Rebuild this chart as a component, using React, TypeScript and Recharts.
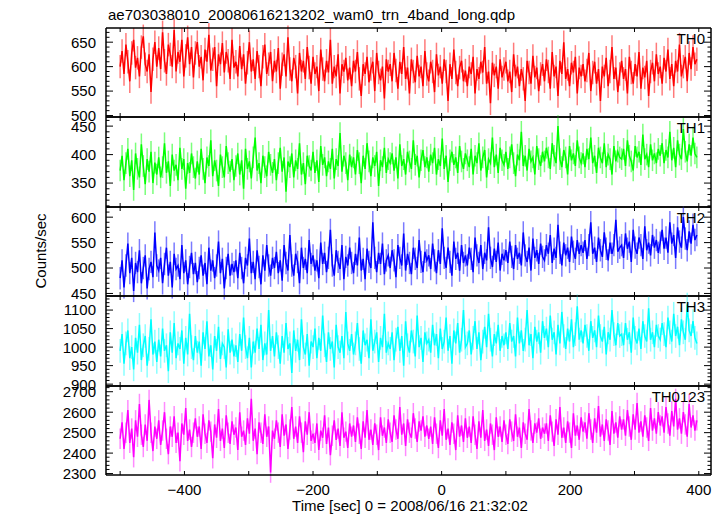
import { LineChart, Line, XAxis, YAxis, ErrorBar } from "recharts";

// time bins (sec): start and width
const T0 = -500;
const BIN = 3;

const TH0 = [
  600, 632, 585, 645, 610, 570, 628, 655, 598, 618, 580, 640, 662, 605, 590, 625, 548, 615, 650, 600,
  638, 595, 670, 612, 585, 645, 625, 600, 675, 590, 630, 610, 655, 580, 622, 660, 605, 640, 578, 628,
  650, 600, 620, 572, 635, 610, 665, 592, 615, 640, 560, 625, 605, 648, 588, 630, 612, 575, 655, 598,
  610, 580, 642, 595, 625, 565, 608, 650, 590, 615, 575, 632, 600, 560, 620, 645, 585, 605, 630, 570,
  612, 590, 638, 555, 605, 625, 580, 660, 595, 570, 618, 600, 545, 628, 590, 612, 575, 640, 598, 565,
  620, 585, 600, 550, 635, 595, 570, 612, 588, 655, 565, 600, 580, 625, 545, 605, 590, 618, 572, 598,
  560, 612, 590, 630, 575, 540, 605, 585, 620, 568, 595, 610, 550, 628, 588, 572, 600, 535, 615, 590,
  605, 570, 628, 592, 555, 610, 585, 640, 575, 598, 545, 615, 590, 568, 622, 580, 600, 560, 632, 585,
  570, 610, 590, 548, 625, 582, 600, 565, 615, 590, 530, 605, 575, 635, 588, 560, 598, 612, 570, 592,
  560, 600, 585, 620, 545, 595, 575, 610, 588, 640, 565, 590, 525, 608, 582, 600, 555, 615, 578, 595,
  610, 570, 590, 548, 625, 580, 600, 560, 595, 575, 530, 612, 588, 565, 622, 578, 598, 550, 585, 605,
  570, 615, 590, 555, 630, 580, 600, 540, 612, 585, 650, 575, 595, 560, 608, 588, 620, 545, 598, 580,
  605, 570, 592, 628, 550, 588, 610, 565, 595, 530, 600, 580, 618, 560, 590, 640, 575, 598, 548, 585,
  612, 575, 595, 545, 620, 588, 565, 605, 580, 630, 555, 598, 578, 612, 540, 590, 608, 570, 625, 585,
  600, 565, 618, 590, 635, 575, 605, 560, 612, 590, 645, 580, 600, 620, 570, 628, 595, 640, 605, 615,
];

const TH1 = [
  372, 398, 355, 385, 410, 362, 390, 338, 402, 375, 360, 418, 380, 348, 392, 370, 405, 350, 386, 365,
  395, 360, 378, 420, 368, 388, 345, 400, 372, 382, 355, 412, 375, 392, 340, 385, 368, 402, 378, 358,
  388, 365, 410, 375, 350, 395, 380, 425, 362, 390, 372, 345, 400, 378, 360, 415, 385, 370, 392, 355,
  380, 402, 365, 390, 340, 410, 375, 388, 358, 395, 430, 372, 385, 350, 398, 378, 362, 405, 382, 368,
  392, 355, 385, 412, 370, 395, 335, 388, 378, 402, 360, 390, 375, 420, 365, 385, 348, 398, 380, 372,
  405, 368, 390, 352, 415, 382, 395, 362, 388, 375, 410, 358, 392, 380, 438, 370, 398, 385, 355, 400,
  378, 395, 365, 408, 385, 350, 398, 375, 420, 388, 362, 395, 380, 405, 345, 390, 378, 412, 368, 392,
  385, 402, 372, 395, 358, 418, 380, 392, 365, 405, 388, 375, 425, 382, 398, 360, 390, 408, 378, 395,
  370, 400, 385, 412, 365, 392, 380, 428, 375, 398, 352, 390, 405, 382, 395, 368, 415, 388, 375, 402,
  390, 378, 410, 365, 398, 385, 420, 372, 395, 408, 360, 392, 385, 430, 378, 400, 368, 412, 390, 382,
  405, 375, 395, 418, 385, 362, 400, 390, 440, 380, 398, 372, 410, 388, 395, 365, 415, 392, 380, 405,
  388, 412, 395, 375, 420, 398, 385, 450, 392, 378, 408, 395, 365, 415, 390, 402, 380, 425, 395, 385,
  402, 378, 410, 392, 430, 385, 398, 368, 412, 395, 385, 420, 378, 400, 392, 365, 415, 388, 405, 395,
  392, 410, 380, 425, 398, 388, 372, 415, 395, 405, 382, 435, 392, 400, 378, 418, 390, 402, 385, 410,
  398, 420, 385, 408, 395, 440, 390, 412, 378, 425, 400, 392, 445, 405, 388, 418, 398, 430, 402, 395,
];

const TH2 = [
  480, 515, 462, 505, 548, 490, 520, 455, 510, 492, 535, 470, 500, 525, 460, 498, 512, 482, 570, 505,
  495, 520, 470, 508, 540, 485, 512, 462, 528, 498, 505, 478, 545, 490, 515, 468, 502, 530, 488, 510,
  472, 500, 525, 485, 510, 468, 540, 495, 515, 480, 505, 552, 490, 518, 460, 500, 528, 485, 508, 492,
  515, 480, 530, 500, 470, 520, 505, 558, 490, 512, 478, 535, 502, 468, 525, 495, 545, 505, 485, 520,
  500, 532, 490, 515, 475, 545, 510, 495, 565, 505, 485, 528, 512, 470, 540, 500, 518, 490, 555, 508,
  525, 495, 515, 480, 550, 508, 530, 492, 520, 575, 505, 485, 535, 512, 498, 545, 478, 522, 505, 540,
  510, 490, 528, 505, 560, 495, 518, 478, 538, 512, 500, 590, 520, 492, 530, 508, 548, 488, 515, 525,
  500, 535, 515, 482, 545, 520, 505, 568, 495, 528, 510, 488, 540, 518, 500, 555, 512, 492, 532, 515,
  525, 498, 548, 515, 490, 535, 508, 578, 520, 500, 540, 512, 485, 552, 518, 530, 495, 545, 510, 525,
  505, 540, 518, 492, 560, 525, 510, 545, 498, 530, 515, 580, 520, 502, 538, 512, 550, 495, 528, 515,
  535, 510, 552, 522, 498, 545, 518, 530, 505, 570, 525, 512, 540, 495, 558, 520, 535, 508, 548, 522,
  515, 545, 528, 565, 510, 538, 520, 585, 530, 505, 550, 525, 540, 512, 562, 532, 518, 555, 528, 545,
  530, 555, 518, 545, 590, 528, 540, 512, 560, 535, 522, 570, 538, 515, 550, 528, 545, 595, 532, 540,
  545, 520, 568, 538, 552, 512, 575, 540, 528, 560, 545, 518, 582, 535, 550, 525, 565, 540, 555, 530,
  550, 575, 538, 560, 530, 590, 548, 565, 520, 580, 552, 540, 600, 558, 535, 572, 548, 585, 555, 565,
];

const TH3 = [
  990, 1035, 955, 1010, 1045, 970, 1000, 940, 1025, 985, 1060, 965, 1005, 1030, 950, 995, 1075, 980, 1015, 960,
  1020, 975, 1050, 990, 1005, 935, 1040, 985, 1065, 970, 1010, 995, 1045, 955, 1025, 980, 1090, 1000, 965, 1030,
  985, 1015, 950, 1040, 995, 1070, 975, 1005, 940, 1030, 990, 1055, 968, 1010, 1000, 945, 1048, 985, 1020, 975,
  1005, 960, 1035, 990, 1080, 1000, 970, 1025, 945, 1015, 985, 1050, 995, 1060, 965, 1010, 980, 1100, 990, 1030,
  975, 1040, 1000, 955, 1030, 985, 1065, 995, 1010, 930, 1045, 990, 1020, 965, 1075, 1000, 980, 1035, 950, 1015,
  1000, 1050, 970, 1025, 990, 1085, 1005, 960, 1040, 995, 1015, 945, 1060, 1000, 985, 1030, 970, 1095, 1010, 990,
  1035, 980, 1010, 1065, 995, 955, 1045, 1005, 1020, 970, 1075, 990, 1015, 1040, 960, 1025, 1000, 1090, 985, 1010,
  995, 1040, 965, 1020, 1055, 990, 1030, 950, 1070, 1005, 985, 1045, 1015, 975, 1085, 1000, 1025, 960, 1040, 1010,
  1020, 985, 1060, 1005, 1035, 970, 1050, 995, 1015, 1080, 990, 1030, 955, 1045, 1010, 1065, 985, 1020, 1100, 1000,
  1010, 1045, 980, 1025, 1070, 995, 1040, 965, 1015, 1055, 1000, 1090, 1020, 975, 1035, 1010, 1060, 990, 1030, 1005,
  1040, 995, 1065, 1015, 1030, 975, 1080, 1010, 1045, 990, 1020, 1100, 1005, 1035, 970, 1055, 1015, 1040, 985, 1070,
  1025, 1050, 1000, 1085, 1020, 1040, 980, 1060, 1010, 1095, 1030, 995, 1050, 1015, 1075, 1000, 1035, 1110, 1020, 1045,
  1010, 1060, 1030, 990, 1070, 1025, 1045, 1000, 1085, 1030, 1015, 1055, 980, 1040, 1020, 1100, 1035, 1005, 1065, 1030,
  1035, 1005, 1065, 1020, 1040, 985, 1080, 1025, 1010, 1050, 995, 1070, 1030, 1015, 1105, 1020, 1040, 1000, 1060, 1030,
  1020, 1065, 1035, 1000, 1080, 1040, 1015, 1090, 1030, 1055, 1005, 1075, 1040, 1020, 1115, 1045, 1030, 1070, 1025, 1010,
];

const TH0123 = [
  2470, 2550, 2420, 2500, 2610, 2450, 2520, 2380, 2560, 2480, 2640, 2490, 2430, 2540, 2460, 2660, 2500, 2410, 2530, 2470,
  2560, 2440, 2510, 2600, 2470, 2395, 2530, 2480, 2580, 2450, 2500, 2360, 2545, 2490, 2620, 2460, 2515, 2430, 2500, 2570,
  2480, 2530, 2420, 2590, 2495, 2450, 2560, 2505, 2375, 2540, 2475, 2615, 2460, 2520, 2425, 2585, 2500, 2445, 2555, 2490,
  2525, 2415, 2600, 2480, 2510, 2440, 2570, 2495, 2665, 2460, 2520, 2395, 2550, 2500, 2445, 2590, 2480, 2530, 2305, 2510,
  2470, 2560, 2500, 2430, 2590, 2485, 2540, 2420, 2515, 2625, 2470, 2530, 2450, 2580, 2500, 2405, 2555, 2490, 2600, 2460,
  2495, 2450, 2545, 2415, 2510, 2475, 2585, 2445, 2525, 2390, 2485, 2560, 2465, 2520, 2435, 2600, 2475, 2505, 2425, 2545,
  2480, 2535, 2455, 2575, 2495, 2420, 2555, 2475, 2610, 2465, 2515, 2440, 2545, 2490, 2415, 2575, 2485, 2525, 2450, 2565,
  2500, 2455, 2585, 2515, 2470, 2625, 2490, 2545, 2435, 2565, 2500, 2475, 2595, 2520, 2455, 2555, 2510, 2580, 2480, 2535,
  2470, 2530, 2445, 2575, 2495, 2425, 2560, 2485, 2615, 2465, 2520, 2440, 2550, 2495, 2415, 2585, 2480, 2535, 2455, 2570,
  2475, 2530, 2450, 2580, 2490, 2420, 2555, 2475, 2610, 2460, 2515, 2435, 2545, 2490, 2415, 2575, 2480, 2530, 2455, 2560,
  2490, 2445, 2565, 2505, 2460, 2590, 2480, 2525, 2425, 2550, 2495, 2465, 2615, 2510, 2450, 2545, 2500, 2570, 2470, 2525,
  2495, 2545, 2460, 2585, 2505, 2435, 2565, 2490, 2625, 2475, 2525, 2450, 2555, 2500, 2425, 2595, 2485, 2535, 2465, 2575,
  2505, 2550, 2470, 2595, 2515, 2450, 2570, 2500, 2630, 2480, 2540, 2460, 2565, 2510, 2440, 2605, 2495, 2550, 2475, 2580,
  2515, 2565, 2485, 2610, 2530, 2465, 2590, 2515, 2645, 2500, 2555, 2480, 2585, 2525, 2460, 2620, 2510, 2570, 2495, 2600,
  2535, 2580, 2500, 2625, 2545, 2485, 2605, 2530, 2665, 2515, 2570, 2495, 2600, 2540, 2480, 2640, 2525, 2585, 2510, 2560,
];

const SERIES = [TH0, TH1, TH2, TH3, TH0123];
const NAMES = ["TH0", "TH1", "TH2", "TH3", "TH0123"];
const COLORS = ["#ff0000", "#00ff00", "#0000ff", "#00ffff", "#ff00ff"];
const LIGHT = ["#ff7a7a", "#7aff7a", "#7a7aff", "#8affff", "#ff8aff"];
const ERRS = [24, 19, 22, 32, 50];

const Y_DOMAINS: [number, number][] = [[497, 679], [308, 466], [445, 620], [895, 1138], [2293, 2728]];
const Y_MAJOR = [
  [500, 550, 600, 650],
  [350, 400, 450],
  [450, 500, 550, 600],
  [900, 950, 1000, 1050, 1100],
  [2300, 2400, 2500, 2600, 2700],
];
const Y_MINOR_STEP = [10, 10, 10, 10, 20];

const X_DOMAIN: [number, number] = [-522, 419];
const X_TICKS = [-500, -400, -300, -200, -100, 0, 100, 200, 300, 400];
const X_LABELED = [-400, -200, 0, 200, 400];

const W = 724;
const FRAME_L = 106;
const FRAME_R = 711;
const EDGES = [28, 117, 207, 296, 386, 475];
const FONT = "'Liberation Sans', Arial, sans-serif";
const AXIS = { stroke: "#000", strokeWidth: 1.5 };

function YTick(props: any) {
  const { y, payload, majors, side, label } = props;
  const v = payload.value;
  const major = majors.includes(v);
  const len = major ? 7 : 3.5;
  const x0 = side === "l" ? FRAME_L : FRAME_R;
  const x1 = side === "l" ? x0 + len : x0 - len;
  return (
    <g>
      <line x1={x0} x2={x1} y1={y} y2={y} stroke="#000" strokeWidth={1} />
      {label && major && (
        <text x={FRAME_L - 10} y={y} dy="0.36em" textAnchor="end" fontSize={15} fontFamily={FONT} fill="#000">
          {v}
        </text>
      )}
    </g>
  );
}

function XTick(props: any) {
  const { x, payload, edge, dir, label } = props;
  const v = payload.value;
  return (
    <g>
      <line x1={x} x2={x} y1={edge} y2={edge + dir * 4} stroke="#000" strokeWidth={1} />
      {label && X_LABELED.includes(v) && (
        <text x={x} y={edge + 20} textAnchor="middle" fontSize={15} fontFamily={FONT} fill="#000">
          {v < 0 ? "\u2212" + Math.abs(v) : v}
        </text>
      )}
    </g>
  );
}

function Panel({ k }: { k: number }) {
  const h = EDGES[k + 1] - EDGES[k];
  const last = k === SERIES.length - 1;
  const bottomH = last ? 41 : 1;
  const data = SERIES[k].map((v, i) => ({ t: T0 + BIN * i, v, e: ERRS[k] }));
  const [d0, d1] = Y_DOMAINS[k];
  const step = Y_MINOR_STEP[k];
  const yTicks: number[] = [];
  for (let v = Math.ceil(d0 / step) * step; v <= d1; v += step) yTicks.push(v);

  return (
    <div style={{ position: "absolute", left: 0, top: EDGES[k] - 1 }}>
      <LineChart width={W} height={1 + h + bottomH} data={data} margin={{ top: 0, right: 0, bottom: 0, left: 0 }}>
        <XAxis
          xAxisId="b"
          dataKey="t"
          type="number"
          domain={X_DOMAIN}
          ticks={X_TICKS}
          interval={0}
          allowDataOverflow
          height={bottomH}
          tickLine={false}
          axisLine={AXIS}
          tick={(p: any) => <XTick {...p} edge={1 + h} dir={-1} label={last} />}
        />
        <XAxis
          xAxisId="t"
          orientation="top"
          dataKey="t"
          type="number"
          domain={X_DOMAIN}
          ticks={X_TICKS}
          interval={0}
          allowDataOverflow
          height={1}
          tickLine={false}
          axisLine={AXIS}
          tick={(p: any) => <XTick {...p} edge={1} dir={1} label={false} />}
        />
        <YAxis
          yAxisId="l"
          type="number"
          domain={Y_DOMAINS[k]}
          ticks={yTicks}
          interval={0}
          allowDataOverflow
          width={FRAME_L}
          tickLine={false}
          axisLine={AXIS}
          tick={(p: any) => <YTick {...p} majors={Y_MAJOR[k]} side="l" label />}
        />
        <YAxis
          yAxisId="r"
          orientation="right"
          type="number"
          domain={Y_DOMAINS[k]}
          ticks={yTicks}
          interval={0}
          allowDataOverflow
          width={W - FRAME_R}
          tickLine={false}
          axisLine={AXIS}
          tick={(p: any) => <YTick {...p} majors={Y_MAJOR[k]} side="r" label={false} />}
        />
        <Line xAxisId="b" yAxisId="l" dataKey="v" stroke="none" dot={false} isAnimationActive={false}>
          <ErrorBar dataKey="e" width={0} stroke={LIGHT[k]} strokeWidth={1.5} direction="y" />
        </Line>
        <Line
          xAxisId="b"
          yAxisId="l"
          dataKey="v"
          type="linear"
          stroke={COLORS[k]}
          strokeWidth={1.5}
          dot={false}
          isAnimationActive={false}
        />
      </LineChart>
    </div>
  );
}

export default function App() {
  return (
    <div style={{ position: "absolute", left: 0, top: 0, width: W, height: 516, background: "#fff" }}>
      <style>{`.recharts-surface{overflow:visible}`}</style>
      {SERIES.map((_, k) => (
        <Panel key={NAMES[k]} k={k} />
      ))}
      <svg
        width={W}
        height={516}
        style={{ position: "absolute", left: 0, top: 0, pointerEvents: "none" }}
        fontFamily={FONT}
      >
        <text x={108} y={20} fontSize={15} fill="#000">
          ae703038010_20080616213202_wam0_trn_4band_long.qdp
        </text>
        {NAMES.map((n, k) => (
          <text key={n} x={705} y={EDGES[k] + 15.5} fontSize={15} textAnchor="end" fill="#000">
            {n}
          </text>
        ))}
        <text x={410} y={511} fontSize={15} textAnchor="middle" fill="#000">
          Time [sec] 0 = 2008/06/16 21:32:02
        </text>
        <text x={46} y={251} fontSize={15} textAnchor="middle" fill="#000" transform="rotate(-90 46 251)">
          Counts/sec
        </text>
      </svg>
    </div>
  );
}
